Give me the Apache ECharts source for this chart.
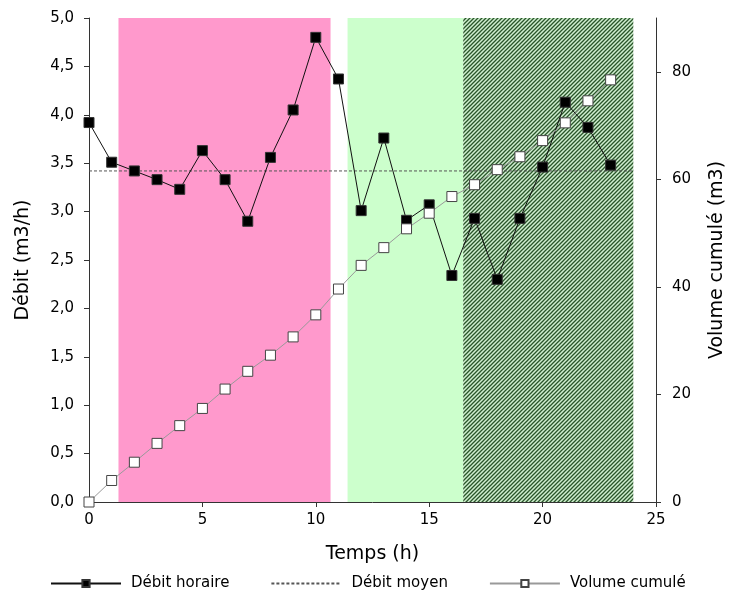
<!DOCTYPE html>
<html>
<head>
<meta charset="utf-8">
<script src="https://cdn.jsdelivr.net/npm/echarts@6/dist/echarts.min.js"></script>
<style>html,body{margin:0;padding:0;background:#fff}#c{width:735px;height:597px}</style>
</head>
<body>
<div id="c"></div>
<script>
var hours = [0,1,2,3,4,5,6,7,8,9,10,11,12,13,14,15,16,17,18,19,20,21,22,23];
var debitHoraire = [3.92,3.51,3.42,3.33,3.23,3.63,3.33,2.90,3.56,4.05,4.80,4.37,3.01,3.76,2.91,3.07,2.34,2.93,2.30,2.93,3.46,4.13,3.87,3.48];
var volumeCumule = [0,4.0,7.4,10.9,14.2,17.4,21.0,24.3,27.3,30.7,34.8,39.6,44.0,47.3,50.8,53.7,56.8,59.0,61.8,64.2,67.2,70.5,74.6,78.5];
var debitMoyen = 3.42;
var debitMoyenRange = [0, 24];
var zoneStarts = [1.3, 11.4, 16.5];
var zoneEnds = [10.65, 16.5, 24.0];
var rightTicks = [0,20,40,60,80];

function hatch() {
  var c = document.createElement('canvas');
  c.width = 4; c.height = 4;
  var g = c.getContext('2d');
  g.fillStyle = '#d0f0d0';
  g.fillRect(0,0,4,4);
  g.strokeStyle = '#2a552a';
  g.lineWidth = 1.3;
  g.beginPath();
  g.moveTo(-1,5); g.lineTo(5,-1);
  g.moveTo(-1,1); g.lineTo(1,-1);
  g.moveTo(3,5); g.lineTo(5,3);
  g.stroke();
  return c;
}
var zoneFills = ['#ff99cc', '#ccffcc', {image: hatch(), repeat: 'repeat'}];

var font = 'DejaVu Sans, Liberation Sans, sans-serif';
var chart = echarts.init(document.getElementById('c'));
chart.setOption({
  animation: false,
  textStyle: {fontFamily: font, color: '#000'},
  grid: {left: 89, right: 75, top: 18, bottom: 95, containLabel: false},
  legend: {
    bottom: 1, left: 45, itemGap: 41, itemWidth: 70, itemHeight: 9,
    textStyle: {fontSize: 15, color: '#000', fontFamily: font, padding: [0,0,0,5]},
    data: [
      {name: 'Débit horaire'},
      {name: 'Débit moyen', itemStyle: {color: 'rgba(0,0,0,0)', borderWidth: 0}},
      {name: 'Volume cumulé'}
    ]
  },
  xAxis: {
    type: 'value', min: 0, max: 25, interval: 5,
    name: 'Temps (h)', nameLocation: 'middle', nameGap: 43,
    nameTextStyle: {fontSize: 19, color: '#000'},
    axisLine: {show: true, lineStyle: {color: '#333', width: 1}},
    axisTick: {show: true, length: 5, lineStyle: {color: '#333'}},
    axisLabel: {fontSize: 15, color: '#000', margin: 11},
    splitLine: {show: false}
  },
  yAxis: [{
    type: 'value', min: 0, max: 5, interval: 0.5, position: 'left',
    name: 'Débit (m3/h)', nameLocation: 'middle', nameGap: 56,
    nameTextStyle: {fontSize: 19, color: '#000'},
    axisLine: {show: true, lineStyle: {color: '#333', width: 1}},
    axisTick: {show: true, length: 5, lineStyle: {color: '#333'}},
    axisLabel: {fontSize: 15, color: '#000', margin: 15, formatter: function(v){return v.toFixed(1).replace('.', ',');}},
    splitLine: {show: false}
  }, {
    type: 'value', min: 0, max: 90, position: 'right',
    name: 'Volume cumulé (m3)', nameLocation: 'middle', nameGap: 52,
    nameTextStyle: {fontSize: 19, color: '#000'},
    axisLine: {show: true, lineStyle: {color: '#333', width: 1}},
    axisTick: {show: true, length: 5, customValues: rightTicks, lineStyle: {color: '#333'}},
    axisLabel: {fontSize: 15, color: '#000', margin: 16, customValues: rightTicks},
    splitLine: {show: false}
  }],
  series: [{
    name: 'zones', type: 'custom', z: 0, silent: true,
    data: zoneStarts.map(function(s, i){return [s, zoneEnds[i], i];}),
    encode: {x: [0, 1]},
    renderItem: function(params, api) {
      var cs = params.coordSys;
      var x0 = api.coord([api.value(0), 0])[0];
      var x1 = api.coord([api.value(1), 0])[0];
      return {type: 'rect', shape: {x: x0, y: cs.y, width: x1 - x0, height: cs.height},
              style: {fill: zoneFills[api.value(2)]}};
    }
  }, {
    name: 'Débit moyen', type: 'line', z: 3, symbol: 'none',
    data: debitMoyenRange.map(function(x){return [x, debitMoyen];}),
    lineStyle: {color: '#555', width: 1, type: [3,2]},
    itemStyle: {color: '#555'}
  }, {
    name: 'Débit horaire', type: 'line', z: 4, symbol: 'rect', symbolSize: 10,
    data: hours.map(function(h,i){return [h, debitHoraire[i]];}),
    lineStyle: {color: '#111', width: 1},
    itemStyle: {color: '#000', borderColor: '#333', borderWidth: 1, opacity: 1}
  }, {
    name: 'Volume cumulé', type: 'line', z: 5, yAxisIndex: 1, symbol: 'rect', symbolSize: 10,
    data: hours.map(function(h,i){return [h, volumeCumule[i]];}),
    lineStyle: {color: '#999', width: 1},
    itemStyle: {color: '#fff', borderColor: '#444', borderWidth: 1, opacity: 1}
  }]
});
</script>
</body>
</html>
